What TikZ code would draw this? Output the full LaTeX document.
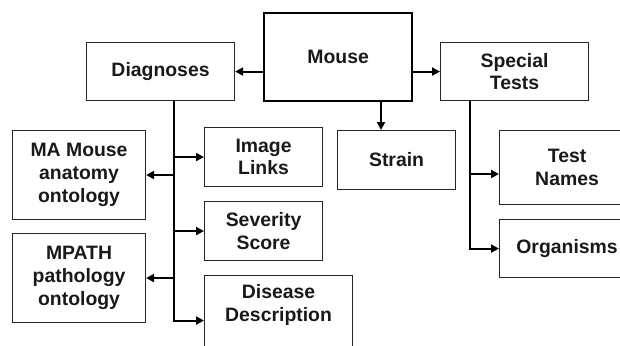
\documentclass[tikz,border=0pt]{standalone}
\usepackage{fontspec}
\setmainfont{Liberation Sans}
\usetikzlibrary{arrows.meta,calc}
\begin{document}
\begin{tikzpicture}[x=1pt,y=-1pt,
  box/.style={draw=black!85, line width=1.1pt, rectangle, anchor=north west, inner sep=0pt, align=center,
    text=black!90, font=\fontsize{19.4}{22.7}\selectfont\bfseries},
  txt/.style={inner sep=0pt, align=center, text=black!90, font=\fontsize{19.4}{22.7}\selectfont\bfseries},
  arr/.style={line width=2pt, -{Triangle[length=8pt,width=8pt]}}]
\useasboundingbox (0,0) rectangle (620,345);
\clip (0,0) rectangle (620,345);
\node[box, draw=black, line width=2.4pt, minimum width=148pt, minimum height=88pt] (mouse) at (263,12) {Mouse};
\node[box, minimum width=148pt, minimum height=58pt] (diag) at (86,42) {Diagnoses};
\node[box, minimum width=148pt, minimum height=58pt] (spec) at (440,42) {Special\\Tests};
\node[box, minimum width=118pt, minimum height=59pt] (strain) at (337,130) {Strain};
\node[box, minimum width=118pt, minimum height=59pt] (img) at (204,127) {Image\\Links};
\node[box, minimum width=118pt, minimum height=59pt] (sev) at (204,201) {Severity\\Score};
\node[box, minimum width=148pt, minimum height=90pt] (dis) at (204,275) {};
\node[txt] (distxt) at ($(dis.north)+(0,30)$) {Disease\\Description};
\node[box, minimum width=133pt, minimum height=89pt] (ma) at (12,130) {MA Mouse\\anatomy\\ontology};
\node[box, minimum width=133pt, minimum height=89pt] (mp) at (12,233) {MPATH\\pathology\\ontology};
\node[box, minimum width=135pt, minimum height=74pt] (tnames) at (499,130) {Test\\Names};
\node[box, minimum width=135pt, minimum height=58pt] (org) at (499,219) {Organisms};
% Mouse connectors
\draw[arr] (mouse.west |- diag.east) -- (diag.east);
\draw[arr] (mouse.east |- spec.west) -- (spec.west);
\coordinate (ms) at (381,0);
\draw[arr] (mouse.south -| ms) -- (strain.north -| ms);
% Diagnoses trunk
\coordinate (dt) at (174,100);
\draw[arr] (diag.south -| dt) |- (dis.west);
\draw[arr] (dt |- img.west) -- (img.west);
\draw[arr] (dt |- ma.east) -- (ma.east);
\draw[arr] (dt |- sev.west) -- (sev.west);
\draw[arr] (dt |- mp.east) -- (mp.east);
% Special tests trunk
\coordinate (st) at (470,100);
\draw[arr] (spec.south -| st) |- (org.west);
\coordinate (tn) at (470,174);
\draw[arr] (tn) -- (tn -| tnames.west);
\end{tikzpicture}
\end{document}
